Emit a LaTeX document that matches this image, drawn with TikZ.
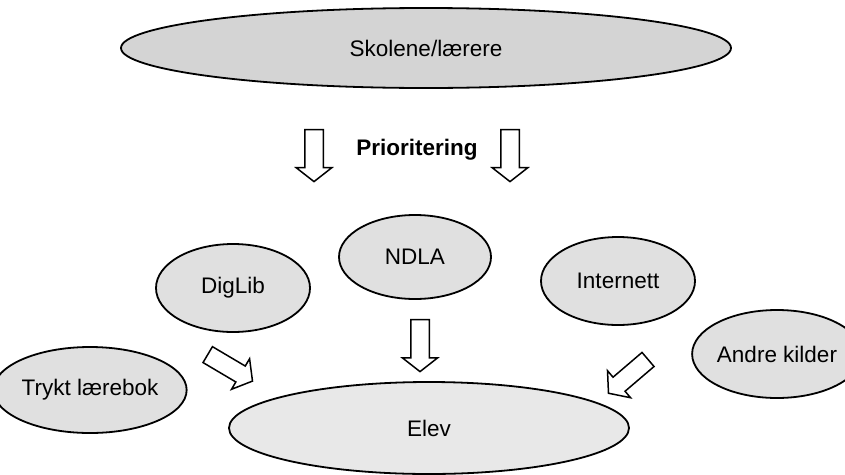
\documentclass[tikz,border=0pt]{standalone}
\usepackage{fontspec}
\setmainfont{Liberation Sans}
\usetikzlibrary{shapes.geometric, shapes.arrows}

\begin{document}
\begin{tikzpicture}[x=1pt,y=-1pt,
  every node/.style={font=\fontsize{22.5}{27}\selectfont},
  kilde/.style={draw,shape=ellipse,fill=black!12,line width=1.8pt,inner sep=0pt},
  pil/.style={draw,shape=single arrow,fill=white,line width=1.5pt,inner xsep=0pt,inner ysep=8.5pt,
    minimum height=52pt,single arrow head extend=8.5pt,single arrow tip angle=104}]
  \useasboundingbox (0,0) rectangle (845,474);
  \path (426,48) node[kilde,fill=black!17,minimum width=610pt,minimum height=80pt] (skole) {Skolene/lærere}
  (417,150) node[font=\fontsize{22.5}{27}\selectfont\bfseries] (prio) {Prioritering}
  (233,288) node[kilde,minimum width=154pt,minimum height=88pt] (diglib) {DigLib}
  (415,257) node[kilde,minimum width=152pt,minimum height=84pt] (ndla) {NDLA}
  (618,281) node[kilde,minimum width=154pt,minimum height=88pt] (internett) {Internett}
  (777,354) node[kilde,minimum width=150pt,minimum height=88pt] (andre) {Andre kilder}
  (90,390) node[kilde,minimum width=154pt,minimum height=86pt] (trykt) {Trykt lærebok}
  (429,428) node[kilde,fill=black!9,minimum width=400pt,minimum height=92pt] (elev) {Elev};
  \path (314,152) node[pil,rotate=-90] (prioV) {}
  (510,152) node[pil,rotate=-90] (prioH) {}
  (227,366) node[pil,rotate=-30.6] (pilDiglib) {}
  (420,342) node[pil,rotate=-90] (pilNdla) {}
  (631,374) node[pil,rotate=-139.5] (pilInternett) {};
\end{tikzpicture}
\end{document}
